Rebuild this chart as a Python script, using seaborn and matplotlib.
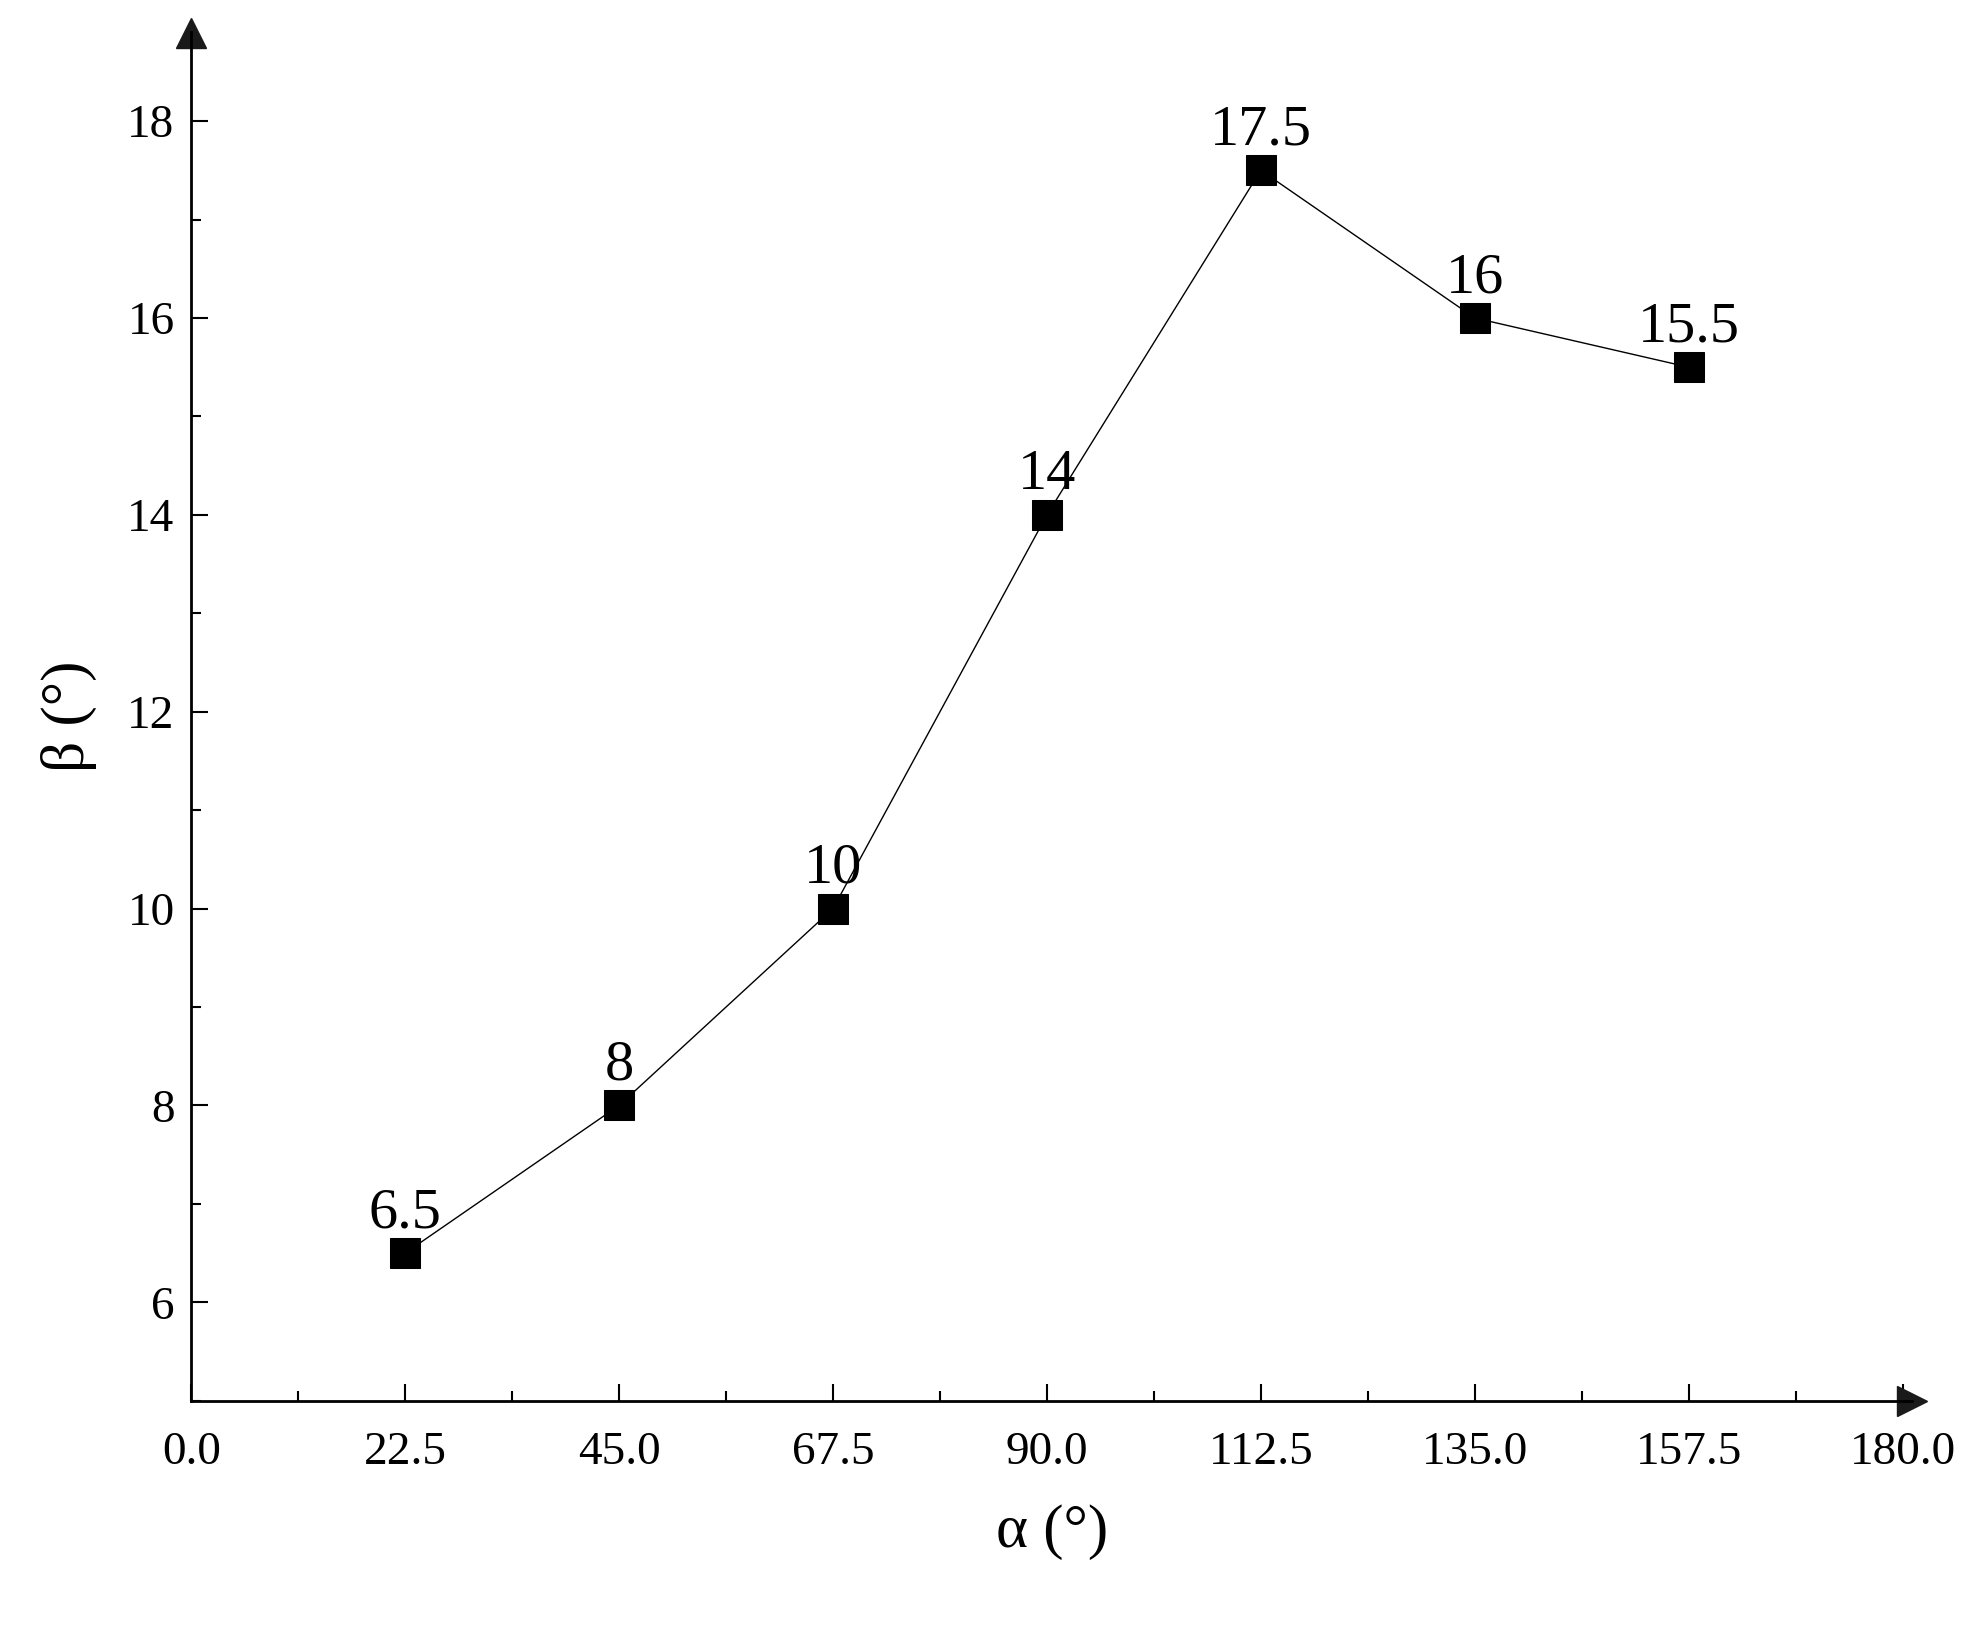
import matplotlib
matplotlib.use("Agg")
import matplotlib.pyplot as plt
import seaborn as sns
import pandas as pd
from matplotlib.ticker import MultipleLocator

alpha = [22.5, 45.0, 67.5, 90.0, 112.5, 135.0, 157.5]
beta = [6.5, 8, 10, 14, 17.5, 16, 15.5]
labels = ["6.5", "8", "10", "14", "17.5", "16", "15.5"]
xticks = [0.0, 22.5, 45.0, 67.5, 90.0, 112.5, 135.0, 157.5, 180.0]
yticks = [6, 8, 10, 12, 14, 16, 18]

sns.set_theme(style="white")
plt.rcParams['font.family'] = ['Liberation Serif', 'DejaVu Serif']
plt.rcParams['text.color'] = 'black'
plt.rcParams['axes.labelcolor'] = 'black'
plt.rcParams['xtick.color'] = 'black'
plt.rcParams['ytick.color'] = 'black'

fig = plt.figure(figsize=(19.78, 16.25), dpi=100)
ax = fig.add_axes([0.0967, 0.138, 0.87, 0.842])
df = pd.DataFrame({"a": alpha, "b": beta})
sns.lineplot(data=df, x="a", y="b", ax=ax, color="black", lw=1.0,
             marker="s", markersize=22, markerfacecolor="black",
             markeredgecolor="black")
for x, y, t in zip(alpha, beta, labels):
    ax.annotate(t, (x, y), xytext=(0, 10), textcoords="offset points",
                ha="center", va="bottom", fontsize=42)

ax.set_xlim(0, 181)
ax.set_ylim(5, 18.9)
ax.set_xticks(xticks)
ax.set_xticklabels([f"{v:.1f}" for v in xticks])
ax.set_yticks(yticks)
ax.xaxis.set_minor_locator(MultipleLocator(11.25))
ax.yaxis.set_minor_locator(MultipleLocator(1))
ax.tick_params(axis="both", which="major", direction="in", length=12, width=1.5,
               labelsize=34, pad=12, bottom=True, left=True)
ax.tick_params(axis="both", which="minor", direction="in", length=7, width=1.5,
               bottom=True, left=True)
ax.xaxis.set_tick_params(which="major", pad=22)
for s in ["top", "right"]:
    ax.spines[s].set_visible(False)
for s in ["left", "bottom"]:
    ax.spines[s].set_linewidth(2)
    ax.spines[s].set_color("black")
ax.plot(1, 0, ">k", ms=22, transform=ax.transAxes, clip_on=False)
ax.plot(0, 1, "^k", ms=22, transform=ax.transAxes, clip_on=False)
ax.set_xlabel("α (°)", fontsize=44, labelpad=22)
ax.set_ylabel("β (°)", fontsize=44, labelpad=22)
fig.savefig("out.png", dpi=100)
